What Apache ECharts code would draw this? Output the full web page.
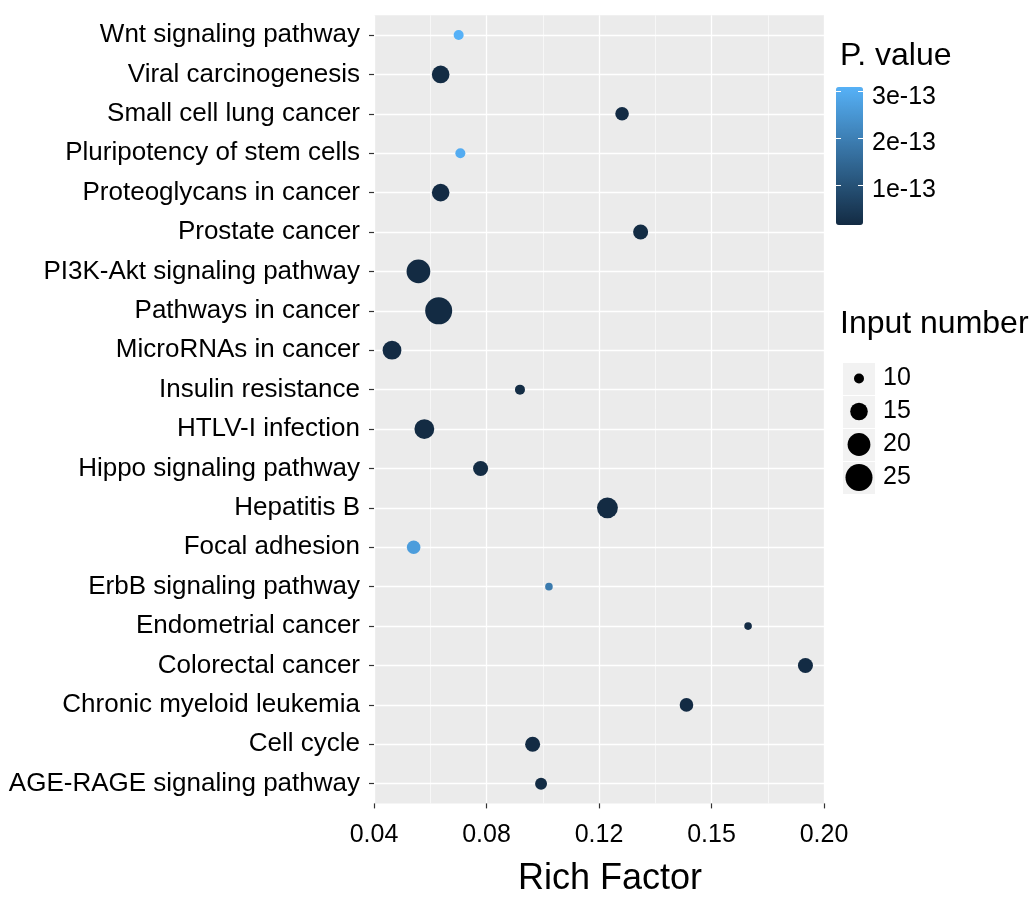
<!DOCTYPE html>
<html>
<head>
<meta charset="utf-8">
<script src="https://cdn.jsdelivr.net/npm/echarts@6/dist/echarts.min.js"></script>
<style>
    html, body { margin: 0; padding: 0; background: #ffffff; }
    #main { width: 1036px; height: 899px; }
</style>
</head>
<body>
<div id="main"></div>
<script>
// pathways, top to bottom as in the picture
var pathways = [
    'Wnt signaling pathway', 'Viral carcinogenesis', 'Small cell lung cancer',
    'Pluripotency of stem cells', 'Proteoglycans in cancer', 'Prostate cancer',
    'PI3K-Akt signaling pathway', 'Pathways in cancer', 'MicroRNAs in cancer',
    'Insulin resistance', 'HTLV-I infection', 'Hippo signaling pathway',
    'Hepatitis B', 'Focal adhesion', 'ErbB signaling pathway', 'Endometrial cancer',
    'Colorectal cancer', 'Chronic myeloid leukemia', 'Cell cycle', 'AGE-RAGE signaling pathway'
];
var richFactor = [
    0.0701, 0.0637, 0.1282, 0.0707, 0.0637, 0.1348, 0.0558, 0.0630, 0.0464, 0.0919,
    0.0579, 0.0779, 0.1230, 0.0541, 0.1022, 0.1730, 0.1934, 0.1511, 0.0964, 0.0994
];
var inputNumber = [
    10, 15, 12, 10, 15, 13, 21, 25, 16, 10,
    17, 13, 18, 12, 9, 9, 13, 12, 13, 11
];
var pValue = [
    3.1e-13, 1.6e-14, 1.5e-14, 3.0e-13, 1.5e-14, 1.6e-14, 1.4e-14, 1.4e-14, 1.5e-14, 1.8e-14,
    1.4e-14, 1.6e-14, 1.4e-14, 2.65e-13, 1.9e-13, 1.7e-14, 1.5e-14, 1.5e-14, 1.5e-14, 1.6e-14
];

var xTickLabels = ['0.04', '0.08', '0.12', '0.15', '0.20'];
var pTicks = [1e-13, 2e-13, 3e-13];
var pTickLabels = ['1e-13', '2e-13', '3e-13'];
var sizeKeys = [10, 15, 20, 25];

var pMin = 1.4e-14, pMax = 3.1e-13;
var FONT = 'Liberation Sans';

// point diameter grows with area
function dotSize(n) {
    return Math.sqrt(Math.max(42 * n - 320, 16));
}

var points = pathways.map(function(name, i) {
    return [richFactor[i], name, inputNumber[i], pValue[i]];
});

var chart = echarts.init(document.getElementById('main'));

var option = {
    backgroundColor: '#ffffff',
    animation: false,
    textStyle: { fontFamily: FONT },
    title: [
        { text: 'P. value', left: 840, top: 40, padding: 0,
          textStyle: { fontSize: 32, fontWeight: 'normal', color: '#000', fontFamily: FONT } },
        { text: 'Input number', left: 840, top: 308, padding: 0,
          textStyle: { fontSize: 32, fontWeight: 'normal', color: '#000', fontFamily: FONT } }
    ],
    grid: [
        { left: 374, right: 212, top: 15.3, bottom: 95.6, show: true, outerBoundsMode: 'none',
          backgroundColor: '#EBEBEB', borderWidth: 0 },
        { left: 836, width: 27, top: 87, height: 138, outerBoundsMode: 'none' },
        { left: 843, width: 32, top: 362, height: 132, show: true, outerBoundsMode: 'none',
          backgroundColor: '#F2F2F2', borderWidth: 0 }
    ],
    xAxis: [
        {
            gridIndex: 0, type: 'value', min: 0.04, max: 0.20, interval: 0.04,
            name: 'Rich Factor', nameLocation: 'middle', nameGap: 58,
            nameTextStyle: { fontSize: 36, color: '#000', padding: [0, 0, 0, 22] },
            axisLine: { show: false },
            axisTick: { show: true, length: 5, lineStyle: { color: '#333', width: 1.2 } },
            axisLabel: {
                fontSize: 25, color: '#000', margin: 19,
                formatter: function(v) {
                    var i = Math.round((v - 0.04) / 0.04);
                    return xTickLabels[i];
                }
            },
            splitLine: { show: true, lineStyle: { color: '#ffffff', width: 1.3 } },
            minorTick: { show: false, splitNumber: 2 },
            minorSplitLine: { show: true, lineStyle: { color: '#ffffff', width: 0.6 } }
        },
        { gridIndex: 1, type: 'value', show: false, min: 0, max: 1 },
        { gridIndex: 2, type: 'value', show: false, min: -1, max: 1 }
    ],
    yAxis: [
        {
            gridIndex: 0, type: 'category', data: pathways, inverse: true,
            axisLine: { show: false },
            axisTick: { show: true, length: 5, alignWithLabel: true, lineStyle: { color: '#333', width: 1.2 } },
            axisLabel: { fontSize: 26, color: '#000', margin: 14, padding: [3, 0, 0, 0] },
            splitLine: { show: true, alignWithLabel: true, lineStyle: { color: '#ffffff', width: 1.3 } }
        },
        {
            gridIndex: 1, type: 'value', min: pMin, max: pMax, position: 'left', z: 10,
            axisLine: { show: false },
            axisTick: { show: true, inside: true, length: 5, customValues: pTicks,
                        lineStyle: { color: '#ffffff', width: 1 } },
            axisLabel: { show: false },
            splitLine: { show: false }
        },
        {
            gridIndex: 1, type: 'value', min: pMin, max: pMax, position: 'right', z: 10,
            axisLine: { show: false },
            axisTick: { show: true, inside: true, length: 5, customValues: pTicks,
                        lineStyle: { color: '#ffffff', width: 1 } },
            axisLabel: {
                show: true, color: '#000', margin: 9, customValues: pTicks,
                formatter: function(v) {
                    for (var i = 0; i < pTicks.length; i++) {
                        if (Math.abs(pTicks[i] - v) < 1e-16) return '{p|' + pTickLabels[i] + '}';
                    }
                    return '';
                },
                rich: {
                    p: { fontSize: 25, color: '#000', fontFamily: FONT, padding: [10, 0, 0, 0] }
                }
            },
            splitLine: { show: false }
        },
        {
            gridIndex: 2, type: 'category', data: sizeKeys.map(String), inverse: true,
            position: 'right',
            axisLine: { show: false },
            axisTick: { show: false },
            axisLabel: { fontSize: 25, color: '#000', margin: 8, padding: [3, 0, 0, 0] },
            splitLine: { show: true, lineStyle: { color: '#ffffff', width: 1 } }
        }
    ],
    visualMap: {
        type: 'continuous', seriesIndex: 0, dimension: 3,
        min: pMin, max: pMax,
        left: 836, top: 87, padding: 0,
        itemWidth: 27, itemHeight: 138,
        calculable: false, text: null, hoverLink: false,
        inRange: { color: ['#132B43', '#56B1F7'] }
    },
    series: [
        {
            type: 'scatter', xAxisIndex: 0, yAxisIndex: 0,
            data: points,
            symbolSize: function(d) { return dotSize(d[2]); },
            itemStyle: { opacity: 1 }
        },
        {
            type: 'scatter', xAxisIndex: 2, yAxisIndex: 3,
            data: sizeKeys.map(function(n) { return [0, String(n), n]; }),
            symbolSize: function(d) { return dotSize(d[2]); },
            itemStyle: { color: '#000000', opacity: 1 }
        }
    ]
};

chart.setOption(option);
</script>
</body>
</html>
